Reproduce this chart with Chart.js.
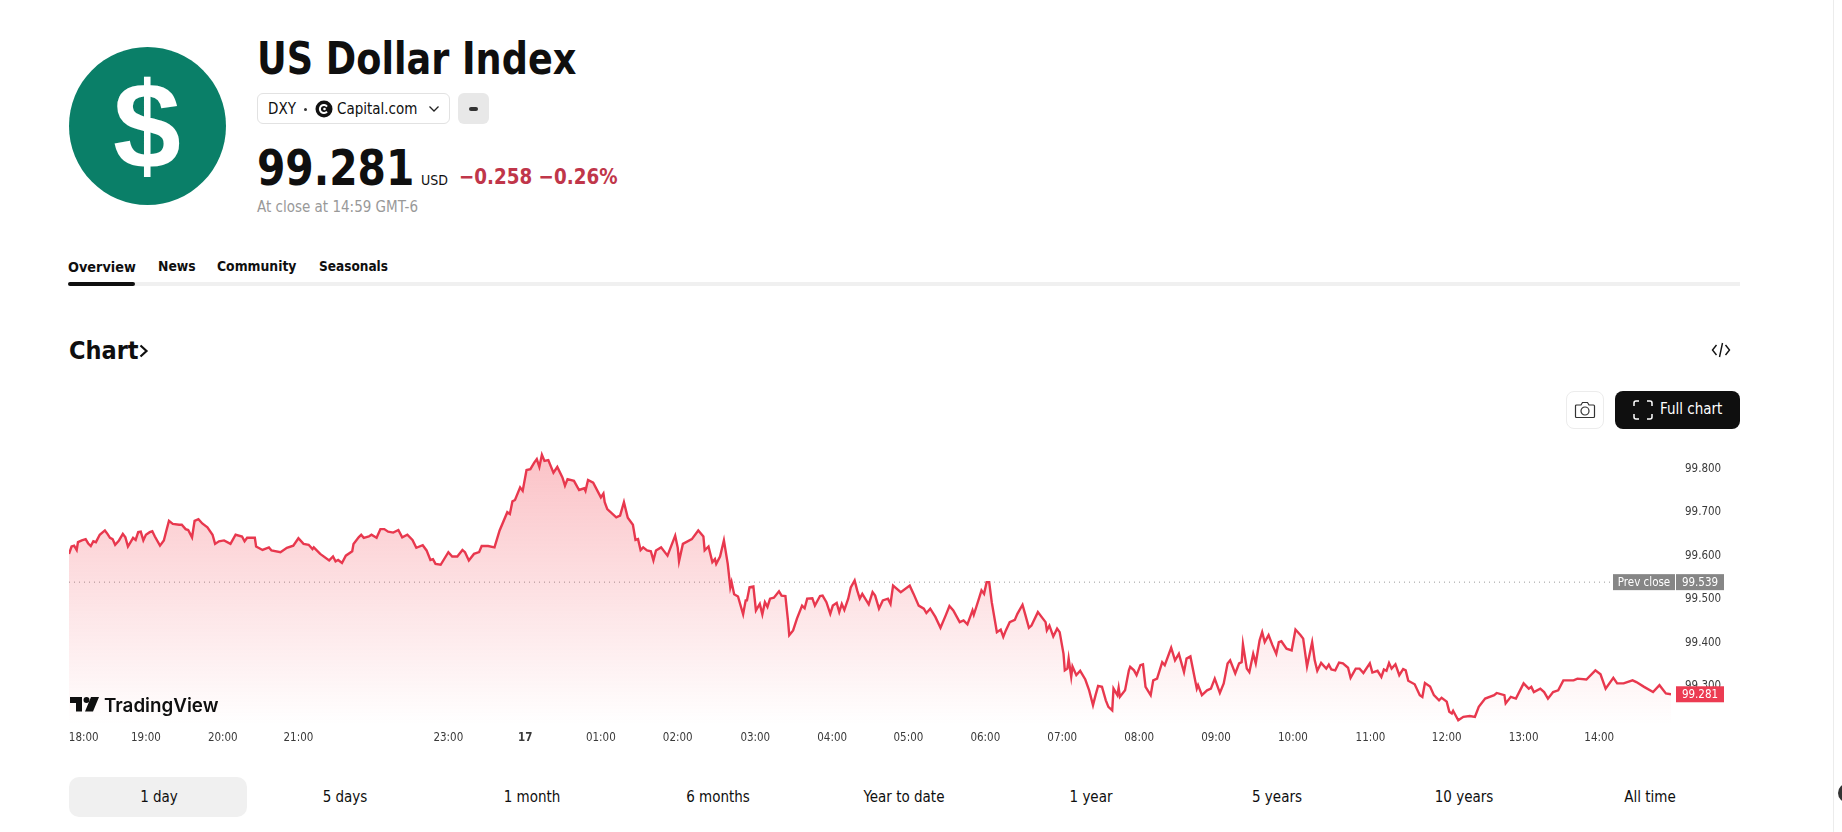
<!DOCTYPE html>
<html>
<head>
<meta charset="utf-8">
<title>US Dollar Index</title>
<script src="https://cdn.jsdelivr.net/npm/chart.js@4/dist/chart.umd.min.js"></script>
<style>
  html, body { margin: 0; padding: 0; background: #fff; overflow: hidden; }
  body { width: 1842px; height: 832px; position: relative; color: #0f0f0f; font-family: "DejaVu Sans Condensed", "DejaVu Sans", sans-serif; font-stretch: condensed; }
  .t { position: absolute; white-space: nowrap; line-height: 1; transform: translateY(-50%); }
  .c { transform: translate(-50%, -50%); }
  .n { transform-origin: left center; transform: translateY(-50%) scaleX(.925); }
  .box { position: absolute; box-sizing: border-box; }
  #wrap { position: absolute; left: 0; top: 420px; width: 1842px; height: 340px; }
  svg { position: absolute; }
</style>
</head>
<body>
  <div class="box" style="left:69px;top:47px;width:157px;height:158px;border-radius:50%;background:#0a7f68"></div>
  <div class="t c" style="left:147px;top:126px;font:bold 122px 'Liberation Sans';color:#fff">$</div>

  <div class="t n" style="left:257px;top:59px;font-size:44px;font-weight:bold">US Dollar Index</div>
  <div class="box" style="left:257px;top:93px;width:193px;height:31px;border:1px solid #e2e2e2;border-radius:6px"></div>
  <div class="t" style="left:268px;top:109px;font-size:15px">DXY</div>
  <div class="box" style="left:304px;top:108px;width:3px;height:3px;border-radius:50%;background:#333"></div>
  <svg style="left:315px;top:100px" width="18" height="18" viewBox="0 0 18 18"><circle cx="9" cy="9" r="8.500" fill="#111"/><path d="M12 6.500a4 4 0 1 0 0 5" fill="none" stroke="#fff" stroke-width="2"/><circle cx="9.500" cy="9" r="1.300" fill="#fff"/></svg>
  <div class="t" style="left:337px;top:109px;font-size:15px">Capital.com</div>
  <svg style="left:428px;top:105px" width="12" height="8" viewBox="0 0 12 8"><path d="M1.500 1.500 6 6l4.500-4.500" fill="none" stroke="#222" stroke-width="1.300"/></svg>
  <div class="box" style="left:458px;top:93px;width:31px;height:31px;border-radius:6px;background:#e8e8e8"></div>
  <div class="box" style="left:469px;top:107px;width:9px;height:3.500px;border-radius:2px;background:#333"></div>

  <div class="t n" style="left:257px;top:168px;font-size:49px;font-weight:bold">99.281</div>
  <div class="t" style="left:421px;top:180px;font-size:14px">USD</div>
  <div class="t n" style="left:459px;top:177px;font-size:22px;font-weight:bold;color:#c0364a">−0.258 −0.26%</div>
  <div class="t" style="left:257px;top:207px;font-size:15px;color:#999">At close at 14:59 GMT-6</div>

  <div class="t" style="left:68px;top:267px;font-size:14.300px;font-weight:bold">Overview</div>
  <div class="t" style="left:158px;top:267px;font-size:13.800px;font-weight:bold">News</div>
  <div class="t" style="left:217px;top:267px;font-size:13.800px;font-weight:bold">Community</div>
  <div class="t" style="left:319px;top:267px;font-size:13.500px;font-weight:bold">Seasonals</div>
  <div class="box" style="left:69px;top:282px;width:1671px;height:4px;background:#f0f0f0"></div>
  <div class="box" style="left:68px;top:282px;width:67px;height:4px;border-radius:2px;background:#0f0f0f"></div>

  <div class="t" style="left:69px;top:350px;font-size:25px;font-weight:bold">Chart</div>
  <svg style="left:138px;top:343px" width="12" height="16" viewBox="0 0 12 16"><path d="M2.500 2.500 8.500 8l-6 5.500" fill="none" stroke="#0f0f0f" stroke-width="2.200"/></svg>
  <svg style="left:1711px;top:341px" width="20" height="18" viewBox="0 0 20 18"><path d="M5.500 4 1.500 9l4 5M14.500 4l4 5-4 5M11.500 2 8.500 16" fill="none" stroke="#111" stroke-width="1.400"/></svg>

  <div class="box" style="left:1566px;top:391px;width:38px;height:38px;border:1px solid #ececec;border-radius:8px"></div>
  <svg style="left:1574px;top:400px" width="22" height="20" viewBox="0 0 22 20"><path d="M2.500 5H7l1.500-2.500h5L15 5h4.500a1 1 0 0 1 1 1v10.500a1 1 0 0 1-1 1h-17a1 1 0 0 1-1-1V6a1 1 0 0 1 1-1z" fill="none" stroke="#333" stroke-width="1.200"/><circle cx="11" cy="11" r="4" fill="none" stroke="#333" stroke-width="1.200"/></svg>
  <div class="box" style="left:1615px;top:391px;width:125px;height:38px;border-radius:8px;background:#0f0f0f"></div>
  <svg style="left:1633px;top:400px" width="20" height="20" viewBox="0 0 20 20"><path d="M1 6V3a2 2 0 0 1 2-2h3M14 1h3a2 2 0 0 1 2 2v3M19 14v3a2 2 0 0 1-2 2h-3M6 19H3a2 2 0 0 1-2-2v-3" fill="none" stroke="#fff" stroke-width="1.500"/></svg>
  <div class="t" style="left:1660px;top:409px;font-size:15px;color:#fff">Full chart</div>

  <div id="wrap"><canvas id="chart" width="1842" height="340"></canvas></div>

  <svg style="left:70px;top:697px" width="29" height="15" viewBox="0 0 29 15"><path d="M0 0h12v14.500H6V6H0zM21 0h8l-6 14.500h-8z" fill="#0f0f0f"/><circle cx="16.500" cy="3" r="3" fill="#0f0f0f"/></svg>
  <div class="t" style="left:104px;top:705px;font:600 18.800px Inter">TradingView</div>

  <div class="box" style="left:69px;top:777px;width:178px;height:40px;border-radius:10px;background:#f0f0f0"></div>
  <div class="t c" style="left:159px;top:797px;font-size:15px">1 day</div>
  <div class="t c" style="left:345px;top:797px;font-size:15px">5 days</div>
  <div class="t c" style="left:532px;top:797px;font-size:15px">1 month</div>
  <div class="t c" style="left:718px;top:797px;font-size:15px">6 months</div>
  <div class="t c" style="left:904px;top:797px;font-size:15px">Year to date</div>
  <div class="t c" style="left:1091px;top:797px;font-size:15px">1 year</div>
  <div class="t c" style="left:1277px;top:797px;font-size:15px">5 years</div>
  <div class="t c" style="left:1464px;top:797px;font-size:15px">10 years</div>
  <div class="t c" style="left:1650px;top:797px;font-size:15px">All time</div>

  <div class="box" style="left:1833px;top:0;width:1px;height:832px;background:#ececec"></div>
  <div class="box" style="left:1838px;top:783px;width:20px;height:20px;border-radius:50%;background:#333"></div>

<script>
// minutes after 18:00 on the chart's bar axis
const minutes = [
  4,6,8,10,11,14,17,19,21,23,25,28,32,34,36,38,40,43,46,48,50,54,56,58,60,62,64,67,69,71,75,78,80,82,85,90,92,95,97,100,
  102,105,108,112,116,118,121,125,130,134,139,141,143,149,150,155,160,162,169,174,179,183,187,191,194,195,200,207,210,212,
  214,217,220,225,226,230,232,234,238,240,244,247,250,253,257,261,264,268,272,275,280,283,286,288,290,294,300,303,307,311,
  313,316,320,324,326,331,336,
  340,346,348,350,352,356,358,361,364,367,369,371,373,375,378,382,385,389,391,393,398,402,406,407,409,413,419,421,422,424,
  431,434,437,440,444,446,448,450,452,455,458,460,462,466,471,474,477,479,480,483,490,495,499,500,503,506,508,509,512,515,
  518,520,521,523,526,530,532,533,535,538,540,543,545,547,549,551,554,558,560,563,565,566,569,572,576,578,580,584,586,590,
  592,595,598,600,603,605,607,609,612,614,617,619,621,623,628,631,633,636,639,643,645,647,653,660,663,667,671,673,676,680,
  684,688,691,694,699,
  702,705,709,710,714,716,718,720,722,724,728,731,733,735,738,742,744,748,750,753,755,760,766,767,769,772,775,777,780,781,
  783,784,786,787,790,793,797,800,803,805,807,810,813,815,818,819,822,823,824,828,831,832,835,837,840,842,844,848,850,853,
  857,859,864,867,870,874,876,879,884,885,888,892,895,898,902,905,908,910,914,917,919,920,923,925,928,930,933,935,937,940,
  943,946,948,950,954,958,961,965,967,970,974,976,978,981,985,987,989,992,995,998,1002,1004,1008,1011,1014,1019,1021,1025,
  1028,1030,1032,1034,1036,1039,1042,1045,1047,1049,1054,1058,
  1060,1062,1066,1069,1073,1075,1079,1081,1083,1084,1088,1092,1097,1101,1104,1109,1116,1118,1124,1125,1129,1133,1139,1143,
  1145,1147,1152,1155,1158,1162,1166,1170,1178,1181,1188,1195,1199,1203,1209,1212,1217,1224,1227,1233,1240,1245,1250,1254
];

const prices = [
  99.604,99.621,99.623,99.613,99.631,99.635,99.638,99.628,99.622,99.633,99.631,99.648,99.658,99.650,99.641,99.638,99.625,99.635,99.650,99.642,
  99.621,99.641,99.636,99.654,99.655,99.635,99.648,99.654,99.656,99.644,99.623,99.635,99.658,99.680,99.673,99.671,99.671,99.661,99.659,99.642,
  99.680,99.684,99.674,99.665,99.648,99.627,99.633,99.635,99.627,99.648,99.644,99.633,99.641,99.641,99.621,99.613,99.619,99.612,99.608,99.618,
  99.623,99.640,99.627,99.625,99.615,99.619,99.604,99.589,99.598,99.587,99.590,99.583,99.600,99.610,99.627,99.642,99.648,99.641,99.644,99.648,
  99.641,99.661,99.661,99.655,99.653,99.659,99.642,99.648,99.636,99.618,99.624,99.612,99.590,99.592,99.581,99.579,99.608,99.598,99.598,99.613,
  99.608,99.589,99.604,99.608,99.622,99.622,99.619,
  99.658,99.700,99.696,99.725,99.728,99.757,99.749,99.797,99.799,99.814,99.822,99.804,99.832,99.818,99.820,99.791,99.804,99.780,99.761,99.776,
  99.772,99.751,99.755,99.749,99.774,99.768,99.734,99.743,99.723,99.707,99.688,99.692,99.723,99.687,99.671,99.636,99.638,99.613,99.619,99.612,
  99.610,99.589,99.612,99.619,99.600,99.623,99.646,99.618,99.587,99.627,99.638,99.658,99.644,99.612,99.621,99.585,99.592,99.581,99.598,99.635,
  99.581,99.527,99.539,99.511,99.506,99.465,99.497,99.497,99.527,99.529,99.474,99.489,99.465,99.493,99.482,99.501,99.503,99.518,99.508,99.507,
  99.451,99.417,99.428,99.455,99.485,99.479,99.501,99.502,99.485,99.507,99.508,99.493,99.466,99.485,99.491,99.470,99.489,99.475,99.501,99.527,
  99.543,99.520,99.501,99.512,99.488,99.516,99.508,99.478,99.497,99.501,99.489,99.531,99.516,99.531,99.512,99.485,99.478,99.468,99.478,99.459,
  99.434,99.462,99.484,99.474,99.447,
  99.451,99.442,99.474,99.464,99.501,99.520,99.512,99.539,99.539,99.493,99.424,99.430,99.413,99.428,99.447,99.452,99.466,99.487,99.466,99.434,
  99.439,99.470,99.447,99.428,99.439,99.414,99.432,99.424,99.374,99.336,99.340,99.363,99.321,99.345,99.325,99.335,99.315,99.290,99.256,99.279,
  99.300,99.298,99.267,99.252,99.244,99.294,99.279,99.296,99.275,99.290,99.336,99.344,99.336,99.325,99.348,99.350,99.298,99.279,99.313,99.317,
  99.355,99.348,99.388,99.359,99.374,99.332,99.363,99.368,99.294,99.302,99.279,99.290,99.294,99.317,99.284,99.306,99.352,99.359,99.329,99.352,
  99.355,99.396,99.340,99.332,99.374,99.352,99.405,99.424,99.401,99.417,99.394,99.374,99.401,99.403,99.386,99.382,99.430,99.417,99.409,99.345,
  99.401,99.359,99.335,99.353,99.340,99.349,99.338,99.336,99.354,99.352,99.342,99.319,99.340,99.340,99.330,99.352,99.331,99.335,99.321,99.338,
  99.335,99.353,99.340,99.350,99.325,99.339,99.336,99.312,99.304,99.279,
  99.275,99.307,99.299,99.279,99.267,99.273,99.264,99.241,99.237,99.243,99.221,99.229,99.231,99.229,99.252,99.271,99.279,99.284,99.279,99.260,
  99.275,99.271,99.306,99.294,99.298,99.286,99.294,99.286,99.271,99.286,99.290,99.313,99.313,99.317,99.315,99.336,99.327,99.294,99.319,99.306,
  99.306,99.313,99.309,99.298,99.286,99.302,99.283,99.281
];

const prevClose = 99.539;
const lastPrice = 99.281;
const priceTicks = [99.3, 99.4, 99.5, 99.6, 99.7, 99.8];
const timeTicks = [15.5,64,124,183,300,360,419,479,539.5,599.5,659,719,779,839,899,959,1019.5,1079,1139,1198];
const timeLabels = ['18:00','19:00','20:00','21:00','23:00','17','01:00','02:00','03:00','04:00','05:00','06:00','07:00','08:00','09:00','10:00','11:00','12:00','13:00','14:00'];

const labelFont = '"DejaVu Sans Condensed", "DejaVu Sans", sans-serif';
const lineColor = 'rgb(232, 56, 78)';

// Prev close and last price badges sit on top of the price axis
const badges = {
  id: 'badges',
  afterDatasetsDraw(chart) {
    const { ctx, scales } = chart;
    const badge = (value, x, w, color, text) => {
      const y = scales.y.getPixelForValue(value);
      ctx.fillStyle = color;
      ctx.fillRect(x, y - 8, w, 16);
      ctx.fillStyle = '#fff';
      ctx.font = '11.5px ' + labelFont;
      ctx.textAlign = 'center';
      ctx.textBaseline = 'middle';
      ctx.fillText(text, x + w / 2, y + 0.5);
    };
    badge(prevClose, 1613, 62, '#868686', 'Prev close');
    badge(prevClose, 1676, 48, '#868686', prevClose.toFixed(3));
    badge(lastPrice, 1676, 48, '#ec3b52', lastPrice.toFixed(3));
  }
};

const ctx = document.getElementById('chart').getContext('2d');

new Chart(ctx, {
  type: 'line',
  data: {
    datasets: [
      {
        data: minutes.map((m, i) => ({ x: m, y: prices[i] })),
        borderColor: lineColor,
        borderWidth: 2.4,
        pointRadius: 0,
        tension: 0,
        fill: 'start',
        backgroundColor: (context) => {
          const { chart } = context;
          const { ctx, chartArea, scales } = chart;
          if (!chartArea) {
            return null;
          }
          const top = scales.y.getPixelForValue(Math.max(...prices));
          const gradient = ctx.createLinearGradient(0, top, 0, chartArea.bottom);
          gradient.addColorStop(0, 'rgba(242, 54, 69, 0.3)');
          gradient.addColorStop(1, 'rgba(242, 54, 69, 0)');
          return gradient;
        }
      },
      {
        data: [{ x: minutes[0], y: prevClose }, { x: 1254, y: prevClose }],
        borderColor: '#9a9a9a',
        borderWidth: 1,
        borderDash: [1, 4],
        pointRadius: 0,
        fill: false
      }
    ]
  },
  options: {
    responsive: false,
    animation: false,
    layout: { padding: { left: 69, right: 0, top: 0, bottom: 0 } },
    plugins: { legend: { display: false }, tooltip: { enabled: false } },
    scales: {
      x: {
        type: 'linear',
        min: 4,
        max: 1254,
        border: { display: false },
        grid: { display: false, drawTicks: false },
        afterFit: (scale) => { scale.height = 35; },
        afterBuildTicks: (scale) => { scale.ticks = timeTicks.map((value) => ({ value })); },
        ticks: {
          autoSkip: false,
          maxRotation: 0,
          padding: 6,
          color: '#3a3a3a',
          font: (c) => ({ family: labelFont, size: 11.5, weight: timeLabels[c.index] === '17' ? 'bold' : 'normal' }),
          callback: (value, index) => timeLabels[index]
        }
      },
      y: {
        position: 'right',
        min: 99.2103,
        max: 99.864,
        border: { display: false },
        grid: { display: false, drawTicks: false },
        afterFit: (scale) => { scale.width = 171; },
        afterBuildTicks: (scale) => { scale.ticks = priceTicks.map((value) => ({ value })); },
        ticks: {
          padding: 14,
          color: '#3a3a3a',
          font: { family: labelFont, size: 11.5 },
          callback: (value) => value.toFixed(3)
        }
      }
    }
  },
  plugins: [badges]
});
</script>
</body>
</html>
